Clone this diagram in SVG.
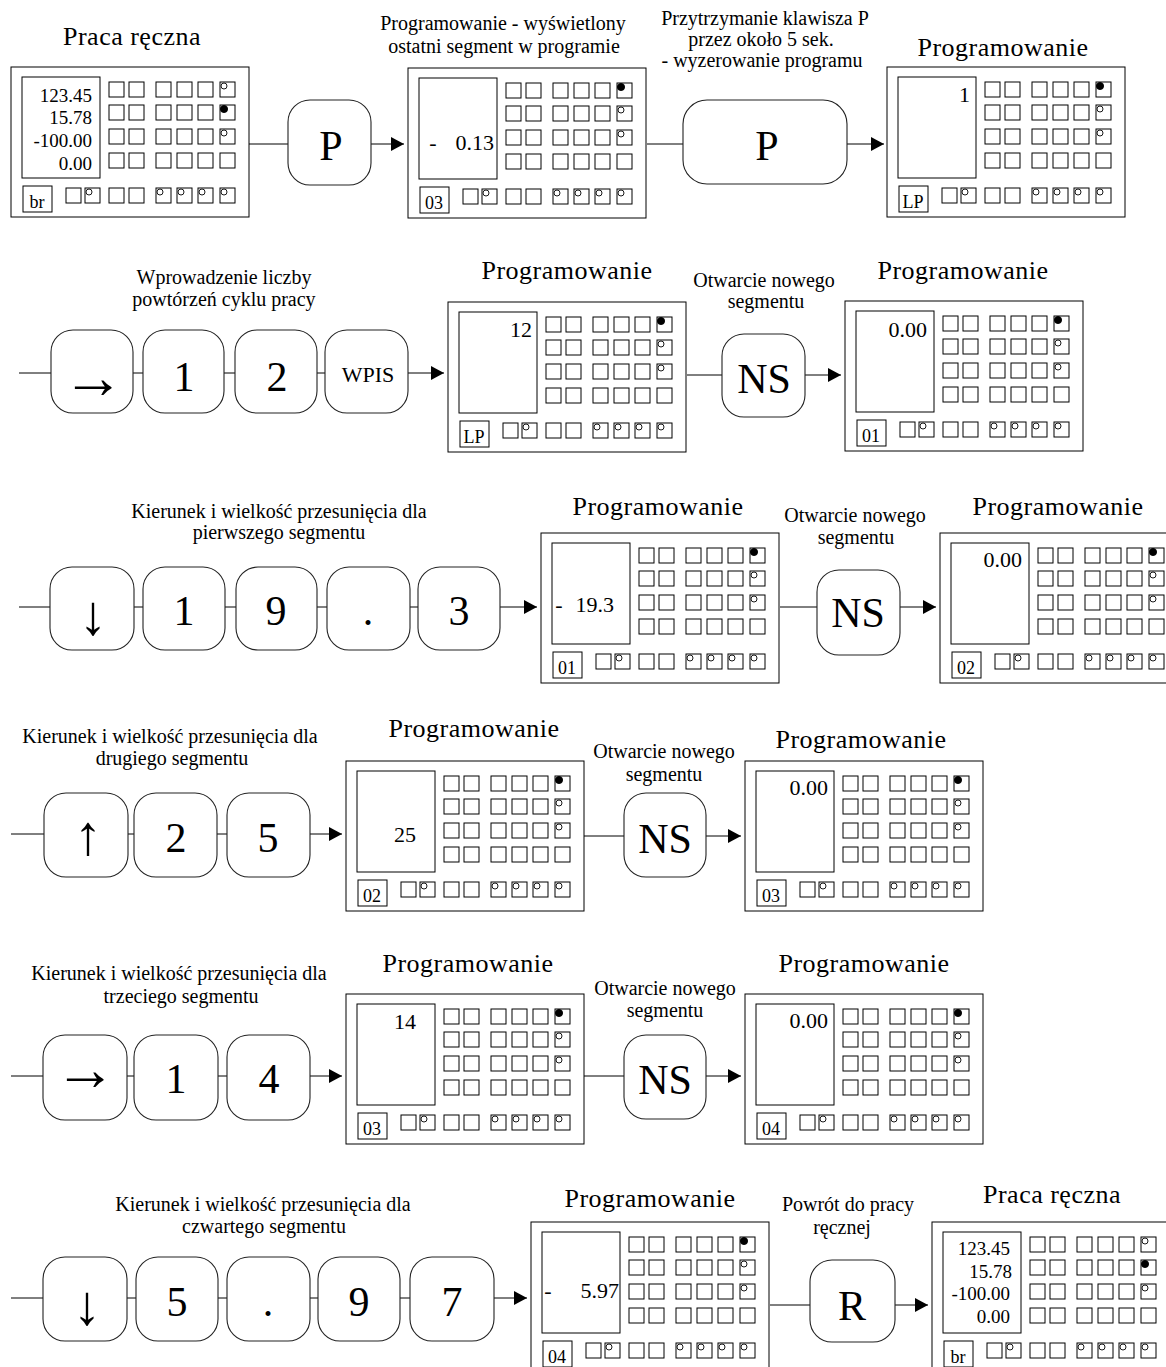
<svg xmlns="http://www.w3.org/2000/svg" xmlns:xlink="http://www.w3.org/1999/xlink" width="1166" height="1367" viewBox="0 0 1166 1367">
  <style>
    .ln { fill: none; stroke: #000; stroke-width: 1; }
    .key { fill: #fff; stroke: #222; stroke-width: 1.1; }
    .od { fill: #fff; stroke: #000; stroke-width: 0.9; }
    .fd { fill: #000; stroke: #000; stroke-width: 0.9; }
    .cn { fill: none; stroke: #000; stroke-width: 1; }
    text { font-family: "Liberation Serif", "Times New Roman", serif; fill: #000; }
    .title { font-size: 26px; letter-spacing: 0.5px; text-anchor: middle; }
    .lbl { font-size: 20px; text-anchor: middle; }
    .kt { font-size: 42px; text-anchor: middle; }
    .kh { font-size: 62px; text-anchor: middle; }
    .kv { font-size: 56px; text-anchor: middle; }
    .ks { font-size: 22px; text-anchor: middle; }
    .disp { font-size: 19px; text-anchor: end; }
    .val { font-size: 22px; text-anchor: end; }
    .mid { font-size: 22px; text-anchor: middle; }
    .tag { font-size: 18px; text-anchor: middle; }
  </style>
  <defs>
    <marker id="ah" markerUnits="userSpaceOnUse" markerWidth="14" markerHeight="14" refX="13" refY="7" orient="auto">
      <path d="M0,0 L13,7 L0,14 z" fill="#000"/>
    </marker>
    <!-- one row of six indicator squares (2 + 4) -->
    <g id="sqrow">
      <rect class="ln" x="0" y="0" width="15" height="15"/>
      <rect class="ln" x="20" y="0" width="15" height="15"/>
      <rect class="ln" x="47" y="0" width="15" height="15"/>
      <rect class="ln" x="68" y="0" width="15" height="15"/>
      <rect class="ln" x="89" y="0" width="15" height="15"/>
      <rect class="ln" x="111" y="0" width="15" height="15"/>
    </g>
    <!-- indicator field: four rows plus the bottom key strip -->
    <g id="grid">
      <use href="#sqrow" y="15"/>
      <use href="#sqrow" y="38"/>
      <use href="#sqrow" y="62"/>
      <use href="#sqrow" y="86"/>
      <rect class="ln" x="-43" y="121" width="15" height="15"/>
      <rect class="ln" x="-24" y="121" width="15" height="15"/>
      <use href="#sqrow" y="121"/>
      <circle class="od" cx="-20" cy="125" r="3"/>
      <circle class="od" cx="51" cy="125" r="3"/>
      <circle class="od" cx="72" cy="125" r="3"/>
      <circle class="od" cx="93" cy="125" r="3"/>
      <circle class="od" cx="115" cy="125" r="3"/>
    </g>
    <!-- controller front panel: frame, display, mode field and indicators -->
    <g id="panel">
      <rect class="ln" x="0" y="0" width="238" height="150"/>
      <rect class="ln" x="11" y="10" width="78" height="101"/>
      <rect class="ln" x="12" y="119" width="29" height="26"/>
      <use href="#grid" x="98"/>
    </g>
    <!-- programming mode: first status lamp lit -->
    <g id="panelP">
      <use href="#panel"/>
      <circle class="fd" cx="213" cy="19" r="3.6"/>
      <circle class="od" cx="213" cy="42" r="3"/>
      <circle class="od" cx="213" cy="66" r="3"/>
    </g>
    <!-- manual mode: second status lamp lit -->
    <g id="panelR">
      <use href="#panel"/>
      <circle class="od" cx="213" cy="19" r="3"/>
      <circle class="fd" cx="213" cy="42" r="3.6"/>
      <circle class="od" cx="213" cy="66" r="3"/>
    </g>
  </defs>

  <!-- connectors -->
  <g id="connectors">
    <line class="cn" x1="249" y1="144" x2="288" y2="144"/>
    <line class="cn" x1="371" y1="144" x2="404" y2="144" marker-end="url(#ah)"/>
    <line class="cn" x1="647" y1="144" x2="683" y2="144"/>
    <line class="cn" x1="847" y1="144" x2="884" y2="144" marker-end="url(#ah)"/>

    <line class="cn" x1="19" y1="373" x2="51" y2="373"/>
    <line class="cn" x1="133" y1="373" x2="143" y2="373"/>
    <line class="cn" x1="224" y1="373" x2="235" y2="373"/>
    <line class="cn" x1="317" y1="373" x2="325" y2="373"/>
    <line class="cn" x1="408" y1="373" x2="444" y2="373" marker-end="url(#ah)"/>
    <line class="cn" x1="687" y1="375" x2="722" y2="375"/>
    <line class="cn" x1="805" y1="375" x2="841" y2="375" marker-end="url(#ah)"/>

    <line class="cn" x1="19" y1="607" x2="50" y2="607"/>
    <line class="cn" x1="134" y1="607" x2="143" y2="607"/>
    <line class="cn" x1="225" y1="607" x2="236" y2="607"/>
    <line class="cn" x1="317" y1="607" x2="327" y2="607"/>
    <line class="cn" x1="410" y1="607" x2="418" y2="607"/>
    <line class="cn" x1="500" y1="607" x2="537" y2="607" marker-end="url(#ah)"/>
    <line class="cn" x1="780" y1="607" x2="817" y2="607"/>
    <line class="cn" x1="900" y1="607" x2="936" y2="607" marker-end="url(#ah)"/>

    <line class="cn" x1="11" y1="834" x2="44" y2="834"/>
    <line class="cn" x1="128" y1="834" x2="134" y2="834"/>
    <line class="cn" x1="217" y1="834" x2="227" y2="834"/>
    <line class="cn" x1="310" y1="834" x2="342" y2="834" marker-end="url(#ah)"/>
    <line class="cn" x1="584" y1="836" x2="624" y2="836"/>
    <line class="cn" x1="706" y1="836" x2="741" y2="836" marker-end="url(#ah)"/>

    <line class="cn" x1="11" y1="1076" x2="43" y2="1076"/>
    <line class="cn" x1="127" y1="1076" x2="134" y2="1076"/>
    <line class="cn" x1="218" y1="1076" x2="227" y2="1076"/>
    <line class="cn" x1="310" y1="1076" x2="342" y2="1076" marker-end="url(#ah)"/>
    <line class="cn" x1="584" y1="1076" x2="624" y2="1076"/>
    <line class="cn" x1="706" y1="1076" x2="741" y2="1076" marker-end="url(#ah)"/>

    <line class="cn" x1="11" y1="1298" x2="43" y2="1298"/>
    <line class="cn" x1="127" y1="1298" x2="136" y2="1298"/>
    <line class="cn" x1="218" y1="1298" x2="227" y2="1298"/>
    <line class="cn" x1="310" y1="1298" x2="318" y2="1298"/>
    <line class="cn" x1="400" y1="1298" x2="410" y2="1298"/>
    <line class="cn" x1="494" y1="1298" x2="527" y2="1298" marker-end="url(#ah)"/>
    <line class="cn" x1="770" y1="1305" x2="810" y2="1305"/>
    <line class="cn" x1="895" y1="1305" x2="928" y2="1305" marker-end="url(#ah)"/>
  </g>

  <!-- row 1 -->
  <g id="panel-manual-1">
    <text class="title" x="132" y="45">Praca ręczna</text>
    <use href="#panelR" x="11" y="67"/>
    <text class="disp" x="92" y="102">123.45</text>
    <text class="disp" x="92" y="124">15.78</text>
    <text class="disp" x="92" y="147">-100.00</text>
    <text class="disp" x="92" y="170">0.00</text>
    <text class="tag" x="37" y="208">br</text>
  </g>
  <g id="key-p1">
    <rect class="key" x="288" y="100" width="83" height="85" rx="22"/>
    <text class="kt" x="331" y="160">P</text>
  </g>
  <g id="panel-last-segment">
    <text class="lbl" x="503" y="30">Programowanie - wyświetlony</text>
    <text class="lbl" x="504" y="53">ostatni segment w programie</text>
    <use href="#panelP" x="408" y="68"/>
    <text class="mid" x="433" y="150">-</text>
    <text class="val" x="494" y="150">0.13</text>
    <text class="tag" x="434" y="209">03</text>
  </g>
  <g id="key-p-hold">
    <text class="lbl" x="765" y="25">Przytrzymanie klawisza P</text>
    <text class="lbl" x="761" y="46">przez około 5 sek.</text>
    <text class="lbl" x="762" y="67">- wyzerowanie programu</text>
    <rect class="key" x="683" y="100" width="164" height="84" rx="24"/>
    <text class="kt" x="767" y="160">P</text>
  </g>
  <g id="panel-prog-cleared">
    <text class="title" x="1003" y="56">Programowanie</text>
    <use href="#panelP" x="887" y="67"/>
    <text class="val" x="970" y="102">1</text>
    <text class="tag" x="913" y="208">LP</text>
  </g>

  <!-- row 2 -->
  <g id="keys-cycles">
    <text class="lbl" x="224" y="284">Wprowadzenie liczby</text>
    <text class="lbl" x="224" y="306">powtórzeń cyklu pracy</text>
    <rect class="key" x="51" y="330" width="82" height="83" rx="22"/>
    <text class="kh" x="93" y="398">→</text>
    <rect class="key" x="143" y="330" width="81" height="83" rx="22"/>
    <text class="kt" x="184" y="391">1</text>
    <rect class="key" x="235" y="330" width="82" height="83" rx="22"/>
    <text class="kt" x="277" y="391">2</text>
    <rect class="key" x="325" y="330" width="83" height="83" rx="22"/>
    <text class="ks" x="368" y="382">WPIS</text>
  </g>
  <g id="panel-cycles">
    <text class="title" x="567" y="279">Programowanie</text>
    <use href="#panelP" x="448" y="302"/>
    <text class="val" x="532" y="337">12</text>
    <text class="tag" x="474" y="443">LP</text>
  </g>
  <g id="key-ns-1">
    <text class="lbl" x="764" y="287">Otwarcie nowego</text>
    <text class="lbl" x="766" y="308">segmentu</text>
    <rect class="key" x="722" y="334" width="83" height="83" rx="22"/>
    <text class="kt" x="764" y="393">NS</text>
  </g>
  <g id="panel-seg-01">
    <text class="title" x="963" y="279">Programowanie</text>
    <use href="#panelP" x="845" y="301"/>
    <text class="val" x="927" y="337">0.00</text>
    <text class="tag" x="871" y="442">01</text>
  </g>

  <!-- row 3 -->
  <g id="keys-seg-1">
    <text class="lbl" x="279" y="518">Kierunek i wielkość przesunięcia dla</text>
    <text class="lbl" x="279" y="539">pierwszego segmentu</text>
    <rect class="key" x="50" y="567" width="84" height="83" rx="22"/>
    <text class="kv" x="93" y="634">↓</text>
    <rect class="key" x="143" y="567" width="82" height="83" rx="22"/>
    <text class="kt" x="184" y="625">1</text>
    <rect class="key" x="236" y="567" width="81" height="83" rx="22"/>
    <text class="kt" x="276" y="625">9</text>
    <rect class="key" x="327" y="567" width="83" height="83" rx="22"/>
    <text class="kt" x="368" y="625">.</text>
    <rect class="key" x="418" y="567" width="82" height="83" rx="22"/>
    <text class="kt" x="459" y="625">3</text>
  </g>
  <g id="panel-seg-01-set">
    <text class="title" x="658" y="515">Programowanie</text>
    <use href="#panelP" x="541" y="533"/>
    <text class="mid" x="559" y="612">-</text>
    <text class="val" x="614" y="612">19.3</text>
    <text class="tag" x="567" y="674">01</text>
  </g>
  <g id="key-ns-2">
    <text class="lbl" x="855" y="522">Otwarcie nowego</text>
    <text class="lbl" x="856" y="544">segmentu</text>
    <rect class="key" x="817" y="570" width="83" height="85" rx="22"/>
    <text class="kt" x="858" y="627">NS</text>
  </g>
  <g id="panel-seg-02">
    <text class="title" x="1058" y="515">Programowanie</text>
    <use href="#panelP" x="940" y="533"/>
    <text class="val" x="1022" y="567">0.00</text>
    <text class="tag" x="966" y="674">02</text>
  </g>

  <!-- row 4 -->
  <g id="keys-seg-2">
    <text class="lbl" x="170" y="743">Kierunek i wielkość przesunięcia dla</text>
    <text class="lbl" x="172" y="765">drugiego segmentu</text>
    <rect class="key" x="44" y="793" width="84" height="84" rx="22"/>
    <text class="kv" x="88" y="854">↑</text>
    <rect class="key" x="134" y="793" width="83" height="84" rx="22"/>
    <text class="kt" x="176" y="852">2</text>
    <rect class="key" x="227" y="793" width="83" height="84" rx="22"/>
    <text class="kt" x="268" y="852">5</text>
  </g>
  <g id="panel-seg-02-set">
    <text class="title" x="474" y="737">Programowanie</text>
    <use href="#panelP" x="346" y="761"/>
    <text class="val" x="416" y="842">25</text>
    <text class="tag" x="372" y="902">02</text>
  </g>
  <g id="key-ns-3">
    <text class="lbl" x="664" y="758">Otwarcie nowego</text>
    <text class="lbl" x="664" y="781">segmentu</text>
    <rect class="key" x="624" y="793" width="82" height="84" rx="22"/>
    <text class="kt" x="665" y="853">NS</text>
  </g>
  <g id="panel-seg-03">
    <text class="title" x="861" y="748">Programowanie</text>
    <use href="#panelP" x="745" y="761"/>
    <text class="val" x="828" y="795">0.00</text>
    <text class="tag" x="771" y="902">03</text>
  </g>

  <!-- row 5 -->
  <g id="keys-seg-3">
    <text class="lbl" x="179" y="980">Kierunek i wielkość przesunięcia dla</text>
    <text class="lbl" x="181" y="1003">trzeciego segmentu</text>
    <rect class="key" x="43" y="1035" width="84" height="85" rx="22"/>
    <text class="kh" x="85" y="1090">→</text>
    <rect class="key" x="134" y="1035" width="84" height="85" rx="22"/>
    <text class="kt" x="176" y="1093">1</text>
    <rect class="key" x="227" y="1035" width="83" height="85" rx="22"/>
    <text class="kt" x="269" y="1093">4</text>
  </g>
  <g id="panel-seg-03-set">
    <text class="title" x="468" y="972">Programowanie</text>
    <use href="#panelP" x="346" y="994"/>
    <text class="val" x="416" y="1029">14</text>
    <text class="tag" x="372" y="1135">03</text>
  </g>
  <g id="key-ns-4">
    <text class="lbl" x="665" y="995">Otwarcie nowego</text>
    <text class="lbl" x="665" y="1017">segmentu</text>
    <rect class="key" x="624" y="1035" width="82" height="84" rx="22"/>
    <text class="kt" x="665" y="1094">NS</text>
  </g>
  <g id="panel-seg-04">
    <text class="title" x="864" y="972">Programowanie</text>
    <use href="#panelP" x="745" y="994"/>
    <text class="val" x="828" y="1028">0.00</text>
    <text class="tag" x="771" y="1135">04</text>
  </g>

  <!-- row 6 -->
  <g id="keys-seg-4">
    <text class="lbl" x="263" y="1211">Kierunek i wielkość przesunięcia dla</text>
    <text class="lbl" x="264" y="1233">czwartego segmentu</text>
    <rect class="key" x="43" y="1257" width="84" height="84" rx="22"/>
    <text class="kv" x="87" y="1324">↓</text>
    <rect class="key" x="136" y="1257" width="82" height="84" rx="22"/>
    <text class="kt" x="177" y="1316">5</text>
    <rect class="key" x="227" y="1257" width="83" height="84" rx="22"/>
    <text class="kt" x="268" y="1316">.</text>
    <rect class="key" x="318" y="1257" width="82" height="84" rx="22"/>
    <text class="kt" x="359" y="1316">9</text>
    <rect class="key" x="410" y="1257" width="84" height="84" rx="22"/>
    <text class="kt" x="452" y="1316">7</text>
  </g>
  <g id="panel-seg-04-set">
    <text class="title" x="650" y="1207">Programowanie</text>
    <use href="#panelP" x="531" y="1222"/>
    <text class="mid" x="548" y="1298">-</text>
    <text class="val" x="619" y="1298">5.97</text>
    <text class="tag" x="557" y="1363">04</text>
  </g>
  <g id="key-r">
    <text class="lbl" x="848" y="1211">Powrót do pracy</text>
    <text class="lbl" x="842" y="1234">ręcznej</text>
    <rect class="key" x="810" y="1260" width="85" height="82" rx="22"/>
    <text class="kt" x="852" y="1320">R</text>
  </g>
  <g id="panel-manual-2">
    <text class="title" x="1052" y="1203">Praca ręczna</text>
    <use href="#panelR" x="932" y="1222"/>
    <text class="disp" x="1010" y="1255">123.45</text>
    <text class="disp" x="1012" y="1278">15.78</text>
    <text class="disp" x="1010" y="1300">-100.00</text>
    <text class="disp" x="1010" y="1323">0.00</text>
    <text class="tag" x="958" y="1363">br</text>
  </g>
</svg>
